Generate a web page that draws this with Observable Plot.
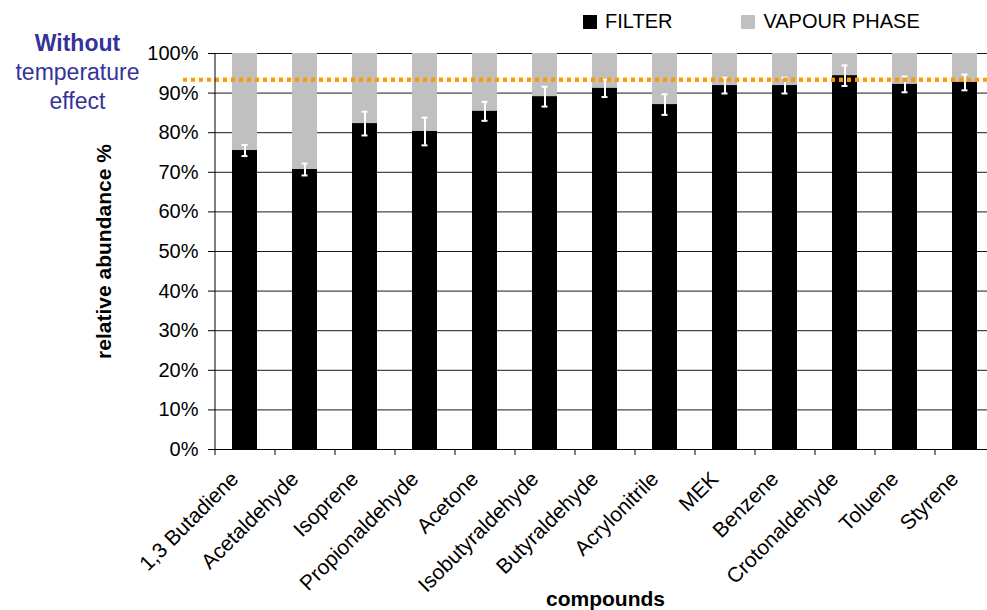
<!DOCTYPE html>
<html>
<head>
<meta charset="utf-8">
<script src="https://cdn.jsdelivr.net/npm/d3@7"></script>
<script src="https://cdn.jsdelivr.net/npm/@observablehq/plot@0.6"></script>
<style>
  html, body { margin: 0; padding: 0; background: #fff; }
  #wrap { position: relative; width: 987px; height: 610px; overflow: hidden; font-family: "Liberation Sans", Arial, sans-serif; }
  #note { position: absolute; left: 0; top: 29px; width: 155px; text-align: center; color: #333399; font-size: 23px; line-height: 29px; }
  #note b { font-weight: bold; }
  #legend { position: absolute; top: 10px; left: 583px; font-size: 20px; color: #000; display: flex; align-items: center; }
  .sw { display: inline-block; width: 14px; height: 14px; margin-right: 8px; }
  .item { display: flex; align-items: center; }
</style>
</head>
<body>
<div id="wrap">
  <div id="chart"></div>
  <div id="note"><b>Without</b><br>temperature<br>effect</div>
  <div id="legend">
    <span class="item"><span class="sw" style="background:#000"></span>FILTER</span>
    <span class="item" style="margin-left:69px"><span class="sw" style="background:#C0C0C0"></span>VAPOUR PHASE</span>
  </div>
</div>
<script>
const compounds = ["1,3 Butadiene", "Acetaldehyde", "Isoprene", "Propionaldehyde", "Acetone", "Isobutyraldehyde", "Butyraldehyde", "Acrylonitrile", "MEK", "Benzene", "Crotonaldehyde", "Toluene", "Styrene"];
const filter = [75.5, 70.7, 82.3, 80.3, 85.4, 89.1, 91.2, 87.1, 91.9, 91.9, 94.4, 92.2, 92.7];
const errors = [1.4, 1.5, 3.0, 3.5, 2.4, 2.5, 2.2, 2.6, 2.0, 2.0, 2.6, 2.0, 2.0];
const reference = 93.4;
const yTicks = [0, 10, 20, 30, 40, 50, 60, 70, 80, 90, 100];

const rows = compounds.map((c, i) => ({compound: c, filter: filter[i], vapour: 100 - filter[i], err: errors[i]}));

const W = 987, H = 610, mL = 215, mR = -8, mT = 53, mB = 161;
const step = (W - mL - mR) / compounds.length;

const chart = Plot.plot({
  width: W,
  height: H,
  marginLeft: mL,
  marginRight: mR,
  marginTop: mT,
  marginBottom: mB,
  style: {fontFamily: "'Liberation Sans', Arial, sans-serif", fontSize: "20px", color: "#000", background: "#fff"},
  x: {domain: compounds, paddingInner: 0.583, paddingOuter: 0.2915, align: 0.5},
  y: {domain: [0, 100]},
  marks: [
    Plot.ruleY(yTicks, {stroke: "#1a1a1a", strokeWidth: 1}),
    Plot.barY(rows, {x: "compound", y1: "filter", y2: 100, fill: "#C0C0C0"}),
    Plot.barY(rows, {x: "compound", y1: 0, y2: "filter", fill: "#000"}),
    Plot.ruleX(rows, {x: "compound", y1: d => d.filter - d.err, y2: d => d.filter + d.err, stroke: "#fff", strokeWidth: 2}),
    Plot.tickY(rows, {x: "compound", y: d => d.filter - d.err, stroke: "#fff", strokeWidth: 2, insetLeft: 9.5, insetRight: 9.5}),
    Plot.tickY(rows, {x: "compound", y: d => d.filter + d.err, stroke: "#fff", strokeWidth: 2, insetLeft: 9.5, insetRight: 9.5}),
    Plot.ruleY([reference], {stroke: "#FF9900", strokeWidth: 4, strokeDasharray: "4,4"}),
    Plot.ruleY([reference], {stroke: "#FF9900", strokeWidth: 4, strokeDasharray: "4,4", dx: -32}),
    Plot.axisY({ticks: yTicks, tickFormat: d => d + "%", tickSize: 7, tickPadding: 10, label: null, fontSize: 20, stroke: "#000"}),
    Plot.ruleX([0], {x: () => compounds[0], dx: -step / 2, y1: 0, y2: 100, stroke: "#000"}),
    Plot.ruleY([0], {stroke: "#000"}),
    Plot.axisX({tickSize: 6, tickFormat: () => "", dx: -step / 2, label: null}),
    Plot.axisX({tickSize: 0, tickRotate: -45, tickPadding: 26, dx: -10, label: null, fontSize: 21}),
    Plot.text(["relative abundance %"], {frameAnchor: "left", rotate: -90, dx: -111, fontWeight: "bold", fontSize: 21, textAnchor: "middle", lineAnchor: "middle"}),
    Plot.text(["compounds"], {frameAnchor: "bottom", dy: 150, fontWeight: "bold", fontSize: 21, textAnchor: "middle", lineAnchor: "middle"})
  ]
});
document.getElementById("chart").appendChild(chart);
</script>
</body>
</html>
